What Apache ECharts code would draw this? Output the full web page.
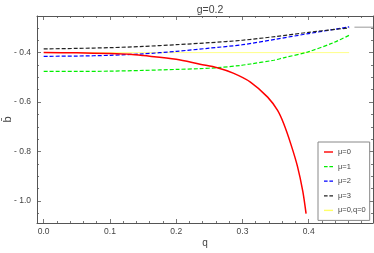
<!DOCTYPE html>
<html><head><meta charset="utf-8">
<script src="https://cdn.jsdelivr.net/npm/echarts@6/dist/echarts.min.js"></script>
<style>html,body{margin:0;padding:0;background:#fff}#c{width:374px;height:253px}</style>
</head><body><div id="c"></div>
<script>
const titleText = 'g=0.2';
const xName = 'q';
const yName = 'b\u0304';
const xMajor = [0, 0.1, 0.2, 0.3, 0.4];
const xMinor = [0.02,0.04,0.06,0.08,0.12,0.14,0.16,0.18,0.22,0.24,0.26,0.28,0.32,0.34,0.36,0.38,0.42,0.44,0.46,0.48];
const yMajor = [-1.0, -0.8, -0.6, -0.4];
const yMinor = [-1.05,-0.95,-0.9,-0.85,-0.75,-0.7,-0.65,-0.55,-0.5,-0.45,-0.35,-0.3];
const names = ['\u03bc=0', '\u03bc=1', '\u03bc=2', '\u03bc=3', '\u03bc=0,q=0'];

const qRed = [0, 0.05, 0.1, 0.13, 0.15, 0.2, 0.236, 0.262, 0.286, 0.312, 0.338, 0.353, 0.362, 0.373, 0.383, 0.391, 0.396];
const bRed = [-0.4, -0.401, -0.404, -0.407, -0.412, -0.427, -0.447, -0.461, -0.483, -0.519, -0.58, -0.634, -0.686, -0.77, -0.86, -0.96, -1.051];

const qGreen = [0, 0.05, 0.1, 0.15, 0.2, 0.236, 0.262, 0.297, 0.312, 0.347, 0.362, 0.398, 0.438, 0.461];
const bGreen = [-0.476, -0.476, -0.475, -0.472, -0.468, -0.465, -0.461, -0.452, -0.446, -0.431, -0.421, -0.398, -0.359, -0.33];

const qBlue = [0, 0.05, 0.1, 0.15, 0.2, 0.25, 0.3, 0.35, 0.4, 0.461];
const bBlue = [-0.415, -0.414, -0.411, -0.405, -0.395, -0.382, -0.368, -0.346, -0.323, -0.296];

const qBlack = [0, 0.05, 0.1, 0.15, 0.2, 0.25, 0.3, 0.35, 0.4, 0.461];
const bBlack = [-0.385, -0.383, -0.380, -0.375, -0.368, -0.360, -0.350, -0.335, -0.318, -0.300];

const qYellow = [0, 0.461];
const bYellow = [-0.4, -0.4];

const qGray = [0.469, 0.497];
const bGray = [-0.297, -0.297];

const XMIN = -0.0101, XMAX = 0.497, YMIN = -1.089, YMAX = -0.252;

function pairs(xs, ys){ return xs.map((x,i)=>[x, ys[i]]); }

const frameColor = '#555';
const labelColor = '#444';
const font = 'Liberation Sans, Arial, sans-serif';

function xAxisDef(pos, vals, len, showLabel, showLine){
  return {
    type:'value', position: pos, min: XMIN, max: XMAX,
    axisLine:{show: showLine, onZero:false, lineStyle:{color: frameColor, width:1}},
    axisTick:{show:true, inside:true, length: len, customValues: vals, lineStyle:{color: frameColor, width:0.8}},
    axisLabel:{show: showLabel, customValues: vals, formatter: v => v.toFixed(1), color: labelColor, fontSize: 8.5, fontFamily: font, margin: 4},
    splitLine:{show:false},
    name: showLabel ? xName : '', nameLocation:'middle', nameGap: 15, nameMoveOverlap:false,
    nameTextStyle:{color: labelColor, fontSize: 10, fontFamily: font}
  };
}
function yAxisDef(pos, vals, len, showLabel, showLine){
  return {
    type:'value', position: pos, min: YMIN, max: YMAX,
    axisLine:{show: showLine, onZero:false, lineStyle:{color: frameColor, width:1}},
    axisTick:{show:true, inside:true, length: len, customValues: vals, lineStyle:{color: frameColor, width:0.8}},
    axisLabel:{show: showLabel, customValues: vals, formatter: v => '- ' + Math.abs(v).toFixed(1), color: labelColor, fontSize: 8.5, fontFamily: font, margin: 6},
    splitLine:{show:false},
    name: showLabel ? yName : '', nameLocation:'middle', nameGap: 24, nameRotate: 90, nameMoveOverlap:false,
    nameTextStyle:{color: labelColor, fontSize: 11, fontFamily: font}
  };
}

const solidIcon = 'path://M0,0h9v1.4h-9z';
const dashIcon = 'path://M0,0h3.6v1.2h-3.6zM5.4,0h3.6v1.2h-3.6z';

const chart = echarts.init(document.getElementById('c'), null, {renderer:'canvas'});
chart.setOption({
  animation:false,
  backgroundColor:'#fff',
  title:{text: titleText, left: 205, top: 0, textAlign:'center',
    textStyle:{fontSize: 10.5, fontWeight:'normal', color: labelColor, fontFamily: font}},
  grid:{left:37, right:1, top:16, bottom:30, containLabel:false, outerBoundsMode:'none'},
  xAxis:[
    xAxisDef('bottom', xMajor, 4, true, true),
    xAxisDef('bottom', xMinor, 2, false, false),
    xAxisDef('top', xMajor, 4, false, true),
    xAxisDef('top', xMinor, 2, false, false)
  ],
  yAxis:[
    yAxisDef('left', yMajor, 4, true, true),
    yAxisDef('left', yMinor, 2, false, false),
    yAxisDef('right', yMajor, 4, false, true),
    yAxisDef('right', yMinor, 2, false, false)
  ],
  legend:{
    data: [
      {name: names[0], icon: solidIcon},
      {name: names[1], icon: dashIcon},
      {name: names[2], icon: dashIcon},
      {name: names[3], icon: dashIcon},
      {name: names[4], icon: solidIcon}
    ],
    orient:'vertical', left: 318, top: 142,
    width: 54,
    backgroundColor:'#fff', borderColor:'#888', borderWidth:1,
    padding:[5,4,5,6], itemGap: 4.6, itemWidth: 9, itemHeight: 1.4,
    textStyle:{fontSize: 7.5, color: labelColor, fontFamily: font, lineHeight: 10}
  },
  series:[
    {name: names[0], type:'line', data: pairs(qRed, bRed), smooth: 0.3, symbol:'none',
      lineStyle:{color:'#ff0000', width:1.5}, itemStyle:{color:'#ff0000'}, z:5},
    {name: names[1], type:'line', data: pairs(qGreen, bGreen), smooth: 0.3, symbol:'none',
      lineStyle:{color:'#00ee00', width:1.2, type:[4,2]}, itemStyle:{color:'#00ee00'}, z:4},
    {name: names[2], type:'line', data: pairs(qBlue, bBlue), smooth: 0.3, symbol:'none',
      lineStyle:{color:'#0000ff', width:1.2, type:[4,2]}, itemStyle:{color:'#0000ff'}, z:4},
    {name: names[3], type:'line', data: pairs(qBlack, bBlack), smooth: 0.3, symbol:'none',
      lineStyle:{color:'#222', width:1.2, type:[4,2]}, itemStyle:{color:'#222'}, z:4},
    {name: names[4], type:'line', data: pairs(qYellow, bYellow), symbol:'none',
      lineStyle:{color:'#ffff88', width:1}, itemStyle:{color:'#ffff66'}, z:3},
    {name: 'extra', type:'line', data: pairs(qGray, bGray), symbol:'none',
      lineStyle:{color:'#bbbbbb', width:1.5}, itemStyle:{color:'#bbbbbb'}, z:3}
  ]
});
</script></body></html>
